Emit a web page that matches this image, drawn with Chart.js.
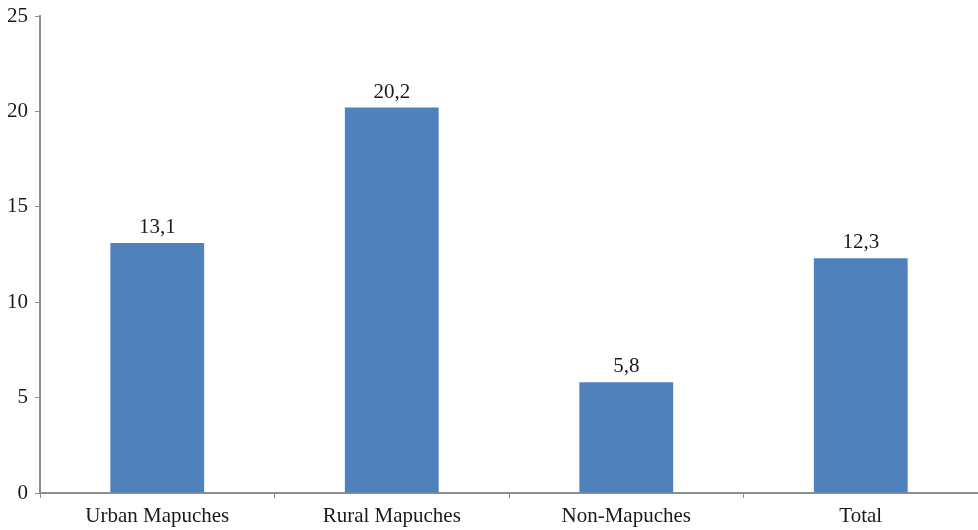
<!DOCTYPE html>
<html>
<head>
<meta charset="utf-8">
<script src="https://cdn.jsdelivr.net/npm/chart.js@4"></script>
<style>
  html, body { margin: 0; padding: 0; background: #fff; }
  #wrap { width: 978px; height: 530px; }
</style>
</head>
<body>
<div id="wrap"><canvas id="myChart" width="978" height="530"></canvas></div>
<script>
'use strict';

let categories = ['Urban Mapuches', 'Rural Mapuches', 'Non-Mapuches', 'Total'];
let values = [13.1, 20.2, 5.8, 12.3];
let valueLabels = ['13,1', '20,2', '5,8', '12,3'];
let yTicks = [0, 5, 10, 15, 20, 25];

let axisGray = '#8e8e8e';
let fontFamily = '"Liberation Serif", "Times New Roman", serif';

// draws the number over each bar
let barLabels = {
  id: 'barLabels',
  afterDatasetsDraw(chart) {
    let ctx = chart.ctx;
    let meta = chart.getDatasetMeta(0);
    ctx.save();
    ctx.font = '21px ' + fontFamily;
    ctx.fillStyle = '#1a1a1a';
    ctx.textAlign = 'center';
    ctx.textBaseline = 'alphabetic';
    meta.data.forEach((bar, i) => {
      ctx.fillText(valueLabels[i], bar.x, bar.y - 10);
    });
    ctx.restore();
  }
};

let ctx = document.getElementById('myChart').getContext('2d');
new Chart(ctx, {
  type: 'bar',
  data: {
    labels: categories,
    datasets: [{
      data: values,
      backgroundColor: '#4f81bd',
      borderWidth: 0,
      barPercentage: 1,
      categoryPercentage: 0.4
    }]
  },
  options: {
    responsive: false,
    animation: false,
    layout: { padding: { top: 16, right: 0, left: 0, bottom: 0 } },
    plugins: {
      legend: { display: false },
      tooltip: { enabled: false }
    },
    scales: {
      x: {
        afterFit(scale) { scale.height = 37; },
        border: { color: axisGray, width: 2 },
        grid: {
          offset: true,
          drawOnChartArea: false,
          drawTicks: true,
          tickLength: 5,
          color: axisGray
        },
        ticks: {
          color: '#1a1a1a',
          padding: 6,
          font: { family: fontFamily, size: 21 }
        }
      },
      y: {
        min: 0,
        max: 25,
        afterFit(scale) {
          scale.width = 40;
          scale.paddingTop = 0;
          scale.paddingBottom = 0;
        },
        afterBuildTicks(scale) {
          scale.ticks = yTicks.map(v => ({ value: v }));
        },
        border: { color: axisGray, width: 2 },
        grid: {
          drawOnChartArea: false,
          drawTicks: true,
          tickLength: 5,
          color: axisGray
        },
        ticks: {
          color: '#1a1a1a',
          padding: 7,
          font: { family: fontFamily, size: 21 }
        }
      }
    }
  },
  plugins: [barLabels]
});
</script>
</body>
</html>
